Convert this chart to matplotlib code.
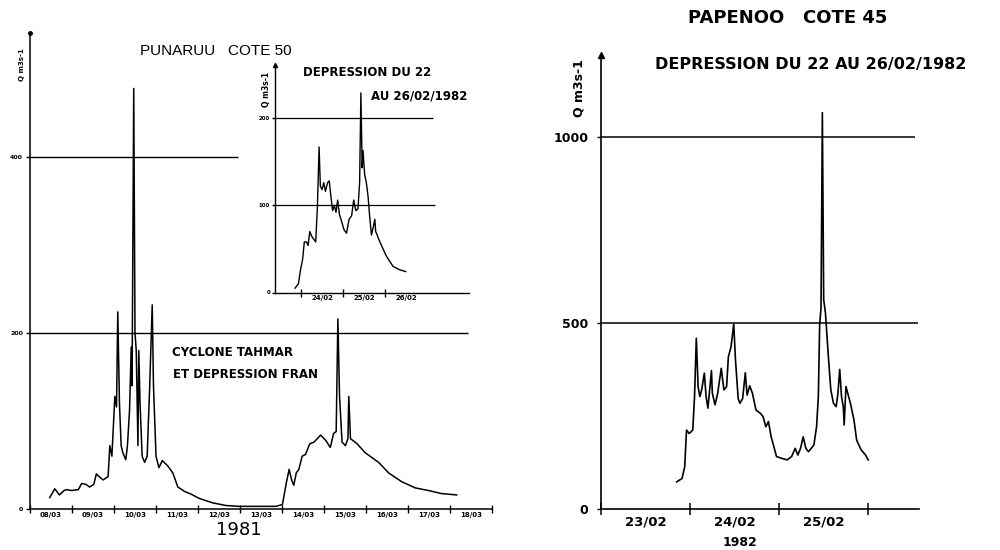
import matplotlib.pyplot as plt
import numpy as np

# --- Données ---
# Punaruu cote 50, mars 1981 (jours comptés depuis le début du 08/03)
punaruu_jour = [0.47, 0.59, 0.70, 0.81, 0.87, 0.99, 1.15, 1.23, 1.33, 1.42,
                1.52, 1.58, 1.64, 1.74, 1.86, 1.90, 1.95, 2.02, 2.06, 2.09,
                2.13, 2.17, 2.21, 2.28, 2.32, 2.37, 2.41, 2.43, 2.47, 2.50,
                2.53, 2.57, 2.59, 2.62, 2.67, 2.73, 2.79, 2.85, 2.91, 2.94,
                3.00, 3.07, 3.15, 3.28, 3.40, 3.52, 3.68, 3.83, 4.03, 4.35,
                4.66, 4.98, 5.45, 5.85, 6.01, 6.10, 6.17, 6.23, 6.28, 6.34,
                6.40, 6.48, 6.56, 6.66, 6.76, 6.92, 7.04, 7.15, 7.23, 7.29,
                7.33, 7.37, 7.43, 7.51, 7.57, 7.59, 7.63, 7.79, 7.98, 8.30,
                8.54, 8.85, 9.17, 9.49, 9.80, 10.16]
punaruu_q = [13, 23, 16, 21, 22, 21, 22, 29, 28, 25,
             28, 40, 37, 33, 37, 72, 60, 128, 116, 224,
             120, 72, 64, 56, 72, 112, 184, 140, 478, 200,
             180, 72, 180, 120, 60, 53, 60, 140, 232, 140,
             60, 47, 55, 49, 41, 25, 20, 17, 12, 7,
             4, 3, 3, 3, 5, 29, 45, 33, 27, 41,
             45, 60, 62, 74, 76, 84, 78, 70, 86, 88,
             216, 128, 76, 72, 80, 128, 80, 74, 64, 53,
             41, 31, 24, 21, 17.5, 16]

# Encart : dépression du 22 au 26/02/1982
encart_jour = [0.86, 0.94, 0.99, 1.04, 1.08, 1.13, 1.17, 1.21, 1.25, 1.29,
               1.35, 1.39, 1.43, 1.46, 1.50, 1.54, 1.58, 1.63, 1.67, 1.71,
               1.75, 1.79, 1.83, 1.87, 1.91, 1.96, 2.02, 2.08, 2.14, 2.20,
               2.25, 2.30, 2.35, 2.39, 2.42, 2.45, 2.47, 2.51, 2.55, 2.59,
               2.63, 2.67, 2.71, 2.75, 2.77, 2.87, 3.02, 3.18, 3.34, 3.48]
encart_q = [5, 10, 26, 38, 58, 58, 54, 70, 65, 62,
            58, 98, 167, 122, 118, 126, 116, 126, 128, 110,
            94, 100, 92, 106, 90, 82, 72, 68, 84, 88,
            106, 94, 96, 126, 229, 143, 163, 135, 126, 110,
            86, 66, 74, 84, 70, 58, 42, 30, 26, 24]

# Papenoo cote 45 (jours comptés depuis le début du 23/02)
papenoo_jour = [0.85, 0.91, 0.94, 0.96, 0.99, 1.03, 1.05, 1.07, 1.09, 1.11,
                1.13, 1.16, 1.18, 1.20, 1.22, 1.24, 1.25, 1.28, 1.31, 1.35,
                1.38, 1.41, 1.43, 1.46, 1.49, 1.51, 1.54, 1.56, 1.59, 1.62,
                1.64, 1.67, 1.70, 1.74, 1.79, 1.82, 1.85, 1.88, 1.91, 1.94,
                1.97, 2.03, 2.09, 2.14, 2.18, 2.21, 2.24, 2.27, 2.30, 2.33,
                2.39, 2.42, 2.44, 2.455, 2.47, 2.485, 2.50, 2.52, 2.55, 2.58,
                2.61, 2.64, 2.66, 2.68, 2.70, 2.72, 2.73, 2.75, 2.77, 2.80,
                2.84, 2.87, 2.92, 2.97, 3.00]
papenoo_q = [73, 82, 114, 212, 203, 212, 302, 459, 329, 302,
             320, 365, 302, 271, 320, 372, 311, 280, 311, 378,
             320, 329, 409, 436, 497, 400, 297, 284, 297, 366,
             306, 331, 311, 266, 257, 248, 221, 235, 194, 168,
             141, 136, 132, 141, 163, 145, 163, 194, 163, 154,
             172, 221, 302, 497, 540, 1065, 562, 526, 418, 320,
             284, 275, 311, 375, 302, 275, 226, 329, 311, 284,
             239, 185, 159, 145, 132]

labels_1981 = ["08/03", "09/03", "10/03", "11/03", "12/03", "13/03",
               "14/03", "15/03", "16/03", "17/03", "18/03"]
labels_encart = ["24/02", "25/02", "26/02"]
labels_1982 = ["23/02", "24/02", "25/02"]

W, H = 1000, 550
FONT = "DejaVu Sans"


def rect(x0, y0, x1, y1):
    # rectangle en pixels (haut-gauche, bas-droite) -> coordonnées figure
    return [x0 / W, 1 - y1 / H, (x1 - x0) / W, (y1 - y0) / H]


def pos(x, y):
    return x / W, 1 - y / H


def habillage(ax, lw=1.1):
    ax.spines["top"].set_visible(False)
    ax.spines["right"].set_visible(False)
    ax.spines["left"].set_linewidth(lw)
    ax.spines["bottom"].set_linewidth(lw)
    ax.patch.set_alpha(0)


def labels_dates(ax, n_jours, labels, size, pad, tick_len):
    ax.set_xticks(np.arange(0, n_jours + 1))
    ax.set_xticks(np.arange(0.5, len(labels), 1.0), minor=True)
    ax.set_xticklabels(labels, minor=True, fontsize=size,
                       fontweight="bold", family=FONT)
    ax.tick_params(axis="x", which="major", direction="inout",
                   length=tick_len, width=1, labelbottom=False)
    ax.tick_params(axis="x", which="minor", length=0, pad=pad)


fig = plt.figure(figsize=(10, 5.5), dpi=100)

# --- Punaruu 1981 ---
ax1 = fig.add_axes(rect(30, 33, 492, 509))
habillage(ax1)
ax1.set_xlim(0, 11)
ax1.set_ylim(0, 541)
ax1.hlines(400, 0, 4.95, color="black", lw=1.0)
ax1.hlines(200, 0, 10.43, color="black", lw=1.0)
ax1.plot(punaruu_jour, punaruu_q, color="black", lw=1.1)
labels_dates(ax1, 11, labels_1981, 5, 2, 6)
ax1.set_yticks([0, 200, 400])
ax1.set_yticklabels(["0", "200", "400"], fontsize=4.5, fontweight="bold",
                    family=FONT)
ax1.tick_params(axis="y", direction="out", length=3, width=1, pad=2)
ax1.plot([0], [1], marker="o", ms=2.5, color="black",
         transform=ax1.transAxes, clip_on=False)

# --- Encart ---
ax2 = fig.add_axes(rect(275, 65, 469, 292.5))
habillage(ax2, 1.0)
ax2.set_xlim(0.386, 4.98)
ax2.set_ylim(0, 261)
ax2.hlines(200, 0.386, 4.12, color="black", lw=0.9)
ax2.hlines(100, 0.386, 4.17, color="black", lw=0.9)
ax2.plot(encart_jour, encart_q, color="black", lw=1.0)
ax2.set_xticks([1, 2, 3])
ax2.set_xticks([1.5, 2.5, 3.5], minor=True)
ax2.set_xticklabels(labels_encart, minor=True, fontsize=5,
                    fontweight="bold", family=FONT)
ax2.tick_params(axis="x", which="major", direction="inout", length=6,
                width=1, labelbottom=False)
ax2.tick_params(axis="x", which="minor", length=0, pad=2)
ax2.set_yticks([0, 100, 200])
ax2.set_yticklabels(["0", "100", "200"], fontsize=4, fontweight="bold",
                    family=FONT)
ax2.tick_params(axis="y", direction="out", length=2, width=1, pad=1.5)
ax2.plot([0], [1], marker="^", ms=3, color="black",
         transform=ax2.transAxes, clip_on=False)

# --- Papenoo 1982 ---
ax3 = fig.add_axes(rect(601, 55, 919, 509))
habillage(ax3, 1.2)
ax3.set_xlim(0, 3.57)
ax3.set_ylim(0, 1220)
ax3.hlines(1000, 0, 3.52, color="black", lw=1.1)
ax3.hlines(500, 0, 3.56, color="black", lw=1.1)
ax3.plot(papenoo_jour, papenoo_q, color="black", lw=1.2)
ax3.set_xticks([0, 1, 2, 3])
ax3.set_xticks([0.5, 1.5, 2.5], minor=True)
ax3.set_xticklabels(labels_1982, minor=True, fontsize=9.5,
                    fontweight="bold", family=FONT)
ax3.tick_params(axis="x", which="major", direction="inout", length=9,
                width=1.1, labelbottom=False)
ax3.tick_params(axis="x", which="minor", length=0, pad=5)
ax3.set_yticks([0, 500, 1000])
ax3.set_yticklabels(["0", "500", "1000"], fontsize=9, fontweight="bold",
                    family=FONT)
ax3.tick_params(axis="y", direction="out", length=3, width=1, pad=6)
ax3.plot([0], [1], marker="^", ms=5, color="black",
         transform=ax3.transAxes, clip_on=False)

# --- Textes ---
fig.text(*pos(216, 51), "PUNARUU   COTE 50", family="Liberation Sans",
         fontsize=11, ha="center", va="center")
fig.text(*pos(22, 65), "Q m3s-1", family=FONT, fontsize=5, fontweight="bold",
         rotation=90, ha="center", va="center")
fig.text(*pos(172, 353), "CYCLONE TAHMAR", family=FONT, fontsize=8.5,
         fontweight="bold", ha="left", va="center")
fig.text(*pos(173, 375), "ET DEPRESSION FRAN", family=FONT, fontsize=8.5,
         fontweight="bold", ha="left", va="center")
fig.text(*pos(239, 530), "1981", family=FONT, fontsize=13,
         ha="center", va="center")

fig.text(*pos(303, 72), "DEPRESSION DU 22", family=FONT, fontsize=8.5,
         fontweight="bold", ha="left", va="center")
fig.text(*pos(371, 96), "AU 26/02/1982", family=FONT, fontsize=8.5,
         fontweight="bold", ha="left", va="center")
fig.text(*pos(267, 89), "Q m3s-1", family=FONT, fontsize=5.5,
         fontweight="bold", rotation=90, ha="center", va="center")

fig.text(*pos(788, 18), "PAPENOO   COTE 45", family=FONT, fontsize=13,
         fontweight="bold", ha="center", va="center")
fig.text(*pos(811, 65), "DEPRESSION DU 22 AU 26/02/1982", family=FONT,
         fontsize=11.5, fontweight="bold", ha="center", va="center")
fig.text(*pos(579, 88), "Q m3s-1", family=FONT, fontsize=9,
         fontweight="bold", rotation=90, ha="center", va="center")
fig.text(*pos(740, 542), "1982", family=FONT, fontsize=9,
         fontweight="bold", ha="center", va="center")

fig.savefig("out.png", dpi=100, facecolor="white")
